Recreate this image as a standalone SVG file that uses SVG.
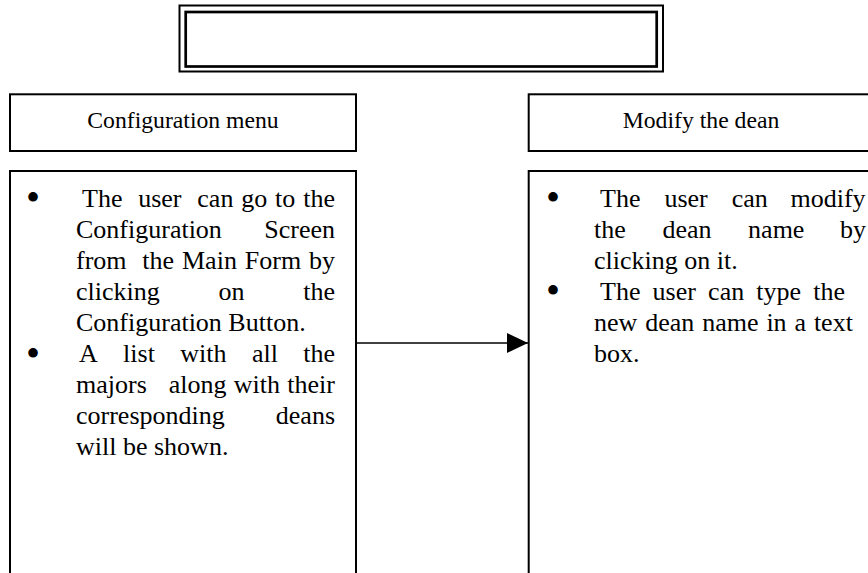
<svg xmlns="http://www.w3.org/2000/svg" width="868" height="573" viewBox="0 0 868 573">
  <style>
    .frame { fill: none; stroke: #000; stroke-width: 2; }
    .head { font-family: "Liberation Serif", "Times New Roman", serif; font-size: 23.7px; fill: #000; text-anchor: middle; }
    .body { font-family: "Liberation Serif", "Times New Roman", serif; font-size: 26px; fill: #000; }
    .bullet { font-family: "Liberation Serif", "Times New Roman", serif; font-size: 40px; fill: #000; text-anchor: middle; }
    .link { fill: none; stroke: #000; stroke-width: 1.6; }
  </style>
  <defs>
    <marker id="arrowhead" markerUnits="userSpaceOnUse" markerWidth="22" markerHeight="22" refX="21" refY="10" orient="auto">
      <path d="M0,0 L21,10 L0,20 Z" fill="#000"/>
    </marker>
  </defs>
  <rect width="868" height="573" fill="#fff"/>

  <!-- empty title frame with a double border -->
  <g id="title-box">
    <rect x="179.5" y="5.5" width="483.5" height="66" fill="none" stroke="#000" stroke-width="2"/>
    <rect x="185.7" y="12" width="471" height="54.5" fill="none" stroke="#000" stroke-width="2.7"/>
  </g>

  <g id="config-menu">
    <rect class="frame" x="10" y="94.3" width="346" height="56.7"/>
    <text class="head" x="183" y="128">Configuration menu</text>
  </g>

  <g id="config-details">
    <rect class="frame" x="10" y="171" width="346" height="420"/>
    <text class="bullet" x="33" y="211">•</text>
    <text class="bullet" x="33" y="367">•</text>
    <text class="body">
      <tspan x="82" y="207">The</tspan><tspan x="138.2" y="207">user</tspan><tspan x="197.3" y="207">can</tspan><tspan x="241.2" y="207">go</tspan><tspan x="275.1" y="207">to</tspan><tspan x="303.2" y="207">the</tspan>
      <tspan x="76" y="238">Configuration</tspan><tspan x="264.3" y="238">Screen</tspan>
      <tspan x="76" y="269">from</tspan><tspan x="142.3" y="269">the</tspan><tspan x="182" y="269">Main</tspan><tspan x="244.8" y="269">Form</tspan><tspan x="309" y="269">by</tspan>
      <tspan x="76" y="300">clicking</tspan><tspan x="218.5" y="300">on</tspan><tspan x="303.2" y="300">the</tspan>
      <tspan x="76" y="331">Configuration Button.</tspan>
      <tspan x="79" y="362">A</tspan><tspan x="123.1" y="362">list</tspan><tspan x="180.3" y="362">with</tspan><tspan x="251.9" y="362">all</tspan><tspan x="303.2" y="362">the</tspan>
      <tspan x="76" y="393">majors</tspan><tspan x="168.7" y="393">along</tspan><tspan x="233.8" y="393">with</tspan><tspan x="287.3" y="393">their</tspan>
      <tspan x="76" y="424">corresponding</tspan><tspan x="275.8" y="424">deans</tspan>
      <tspan x="76" y="455">will be shown.</tspan>
    </text>
  </g>

  <g id="modify-dean">
    <rect class="frame" x="528.7" y="94.3" width="346" height="56.7"/>
    <text class="head" x="701" y="128">Modify the dean</text>
  </g>

  <g id="modify-details">
    <rect class="frame" x="528.7" y="171" width="346" height="420"/>
    <text class="bullet" x="553" y="211">•</text>
    <text class="bullet" x="553" y="304">•</text>
    <text class="body">
      <tspan x="600" y="207">The</tspan><tspan x="664.4" y="207">user</tspan><tspan x="731.7" y="207">can</tspan><tspan x="790.5" y="207">modify</tspan>
      <tspan x="594" y="238">the</tspan><tspan x="662.4" y="238">dean</tspan><tspan x="748.1" y="238">name</tspan><tspan x="840" y="238">by</tspan>
      <tspan x="594" y="269">clicking on it.</tspan>
      <tspan x="600" y="300">The</tspan><tspan x="652.6" y="300">user</tspan><tspan x="708.1" y="300">can</tspan><tspan x="756.3" y="300">type</tspan><tspan x="813.2" y="300">the</tspan>
      <tspan x="594" y="331">new</tspan><tspan x="645.2" y="331">dean</tspan><tspan x="702.2" y="331">name</tspan><tspan x="766.4" y="331">in</tspan><tspan x="794.5" y="331">a</tspan><tspan x="813.9" y="331">text</tspan>
      <tspan x="594" y="362">box.</tspan>
    </text>
  </g>

  <g id="connectors">
    <line class="link" x1="356" y1="343" x2="528" y2="343" marker-end="url(#arrowhead)"/>
  </g>
</svg>
